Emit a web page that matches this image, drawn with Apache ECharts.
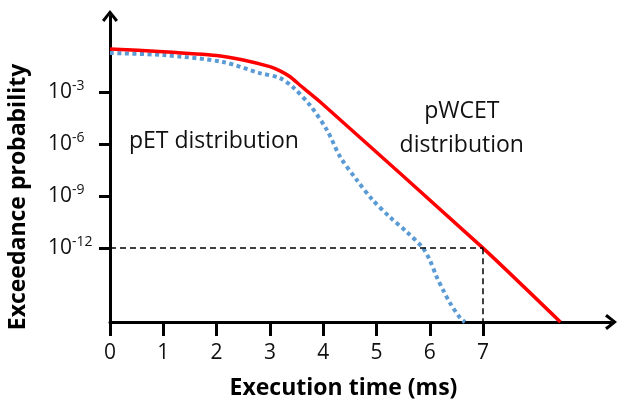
<!DOCTYPE html>
<html>
<head>
<meta charset="utf-8">
<script src="https://cdn.jsdelivr.net/npm/echarts@6/dist/echarts.min.js"></script>
<style>
  html, body { margin: 0; padding: 0; background: #fff; }
  #chart { width: 618px; height: 404px; }
</style>
</head>
<body>
<div id="chart"></div>
<script>
// exceedance curves, y is log10 of the exceedance probability
var pwcetTime = [0, 1, 2, 2.5, 3, 3.19, 3.38, 3.56, 3.94, 7, 8.45];
var pwcetLogProb = [-0.49, -0.64, -0.86, -1.12, -1.51, -1.75, -2.09, -2.57, -3.54, -12, -16.27];

var petTime = [0, 1, 2.12, 2.81, 3.19, 3.43, 3.75, 4.07, 4.32, 4.63, 4.93, 5.25, 5.57, 5.87, 6.0, 6.13, 6.25, 6.38, 6.57, 6.66];
var petLogProb = [-0.72, -0.84, -1.24, -1.88, -2.17, -2.69, -3.73, -5.17, -6.73, -8.06, -9.22, -10.2, -11.07, -11.99, -12.69, -13.67, -14.42, -15.17, -16.04, -16.27];

var timeTicks = [0, 1, 2, 3, 4, 5, 6, 7];
var probExponents = [-3, -6, -9, -12];

// target exceedance 10^-12 and the pWCET read at it
var targetExponent = -12;
var pwcetAtTarget = 7;

var yMin = -16.27, yMax = 1.42;
var xMin = 0, xMax = 9.4;

var font = '"Open Sans", "DejaVu Sans", sans-serif';
var chevron = 'path://M0,10 L8,0 L16,10 L13.6,12 L8,4.6 L2.4,12 Z';

function zip(xs, ys) {
	return xs.map(function (x, i) { return [x, ys[i]]; });
}

var mainChart = echarts.init(document.getElementById('chart'));

mainChart.setOption({
	animation: false,
	grid: {
		left: 110,
		right: 7,
		top: 16,
		bottom: 82,
		containLabel: false,
		outerBoundsMode: 'none'
	},
	xAxis: {
		type: 'value',
		min: xMin,
		max: xMax,
		name: 'Execution time (ms)',
		nameLocation: 'middle',
		nameGap: 55,
		nameTextStyle: {
			fontFamily: font,
			fontSize: 23,
			fontWeight: 'bold',
			color: '#000',
			padding: [0, 34, 0, 0]
		},
		axisLine: {
			onZero: false,
			symbol: ['none', chevron],
			symbolSize: [16, 12],
			lineStyle: { color: '#000', width: 3 }
		},
		axisTick: {
			customValues: timeTicks,
			length: 14,
			lineStyle: { color: '#000', width: 3 }
		},
		axisLabel: {
			customValues: timeTicks,
			margin: 21,
			fontFamily: font,
			fontSize: 21,
			color: '#111'
		},
		splitLine: { show: false }
	},
	yAxis: {
		type: 'value',
		min: yMin,
		max: yMax,
		name: 'Exceedance probability',
		nameLocation: 'middle',
		nameRotate: 90,
		nameGap: 80,
		nameTextStyle: {
			fontFamily: font,
			fontSize: 23,
			fontWeight: 'bold',
			color: '#000',
			padding: [0, 56, 0, 0]
		},
		axisLine: {
			symbol: ['none', chevron],
			symbolSize: [16, 12],
			lineStyle: { color: '#000', width: 3 }
		},
		axisTick: {
			customValues: probExponents,
			length: 11,
			lineStyle: { color: '#000', width: 3 }
		},
		axisLabel: {
			customValues: probExponents,
			align: 'left',
			margin: 62,
			formatter: function (v) {
				return '{b|10}{s|' + v + '}';
			},
			rich: {
				b: { fontFamily: font, fontSize: 21, lineHeight: 26, color: '#111' },
				s: { fontFamily: font, fontSize: 14, lineHeight: 14, verticalAlign: 'top', color: '#111' }
			}
		},
		splitLine: { show: false }
	},
	series: [{
			name: 'pET',
			type: 'line',
			data: zip(petTime, petLogProb),
			showSymbol: false,
			smooth: 0.3,
			lineStyle: {
				color: '#5B9BD5',
				width: 4,
				type: [4, 3.5],
				cap: 'butt'
			},
			markPoint: {
				symbolSize: 0,
				silent: true,
				label: {
					show: true,
					position: 'inside',
					fontFamily: font,
					fontSize: 23,
					color: '#111'
				},
				data: [{
						coord: [1.95, -5.85],
						label: { formatter: 'pET distribution' }
					}
				]
			}
		}, {
			name: 'pWCET',
			type: 'line',
			data: zip(pwcetTime, pwcetLogProb),
			showSymbol: false,
			smooth: 0.2,
			lineStyle: {
				color: '#FF0000',
				width: 3.5
			},
			markLine: {
				silent: true,
				symbol: 'none',
				label: { show: false },
				lineStyle: { color: '#000', width: 1.5, type: [6, 4] },
				data: [
					[{ coord: [xMin, targetExponent] }, { coord: [pwcetAtTarget, targetExponent] }],
					[{ coord: [pwcetAtTarget, targetExponent] }, { coord: [pwcetAtTarget, yMin] }]
				]
			},
			markPoint: {
				symbolSize: 0,
				silent: true,
				label: {
					show: true,
					position: 'inside',
					fontFamily: font,
					fontSize: 23,
					lineHeight: 34,
					color: '#111'
				},
				data: [{
						coord: [6.6, -5.06],
						label: { formatter: 'pWCET\ndistribution' }
					}
				]
			}
		}
	]
});
</script>
</body>
</html>
